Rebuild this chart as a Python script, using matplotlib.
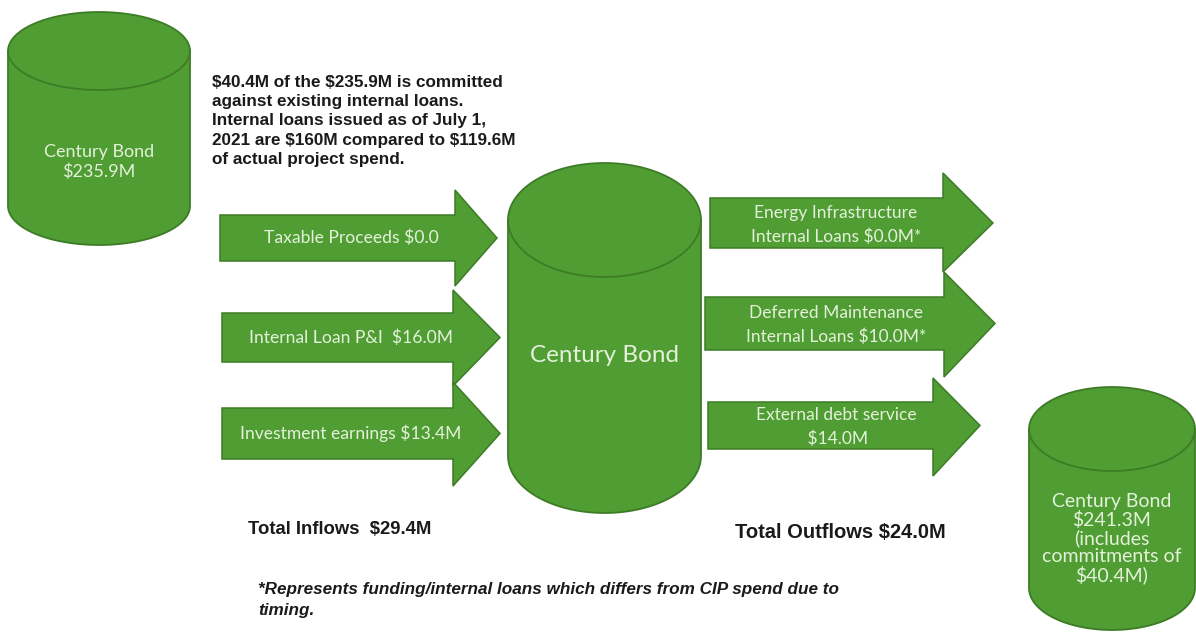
import numpy as np
import matplotlib.pyplot as plt
from matplotlib.patches import Polygon

plt.rcParams["text.parse_math"] = False

# fund balances (millions)
opening_balance = 235.9
closing_balance = 241.3
committed = 40.4
loans_issued = 160
project_spend = 119.6

inflow_labels = ["Taxable Proceeds", "Internal Loan P&I ", "Investment earnings"]
inflow_values = [0.0, 16.0, 13.4]
inflow_fmt = ["${:.1f}", "${:.1f}M", "${:.1f}M"]

outflow_labels = ["Energy Infrastructure\nInternal Loans", "Deferred Maintenance\nInternal Loans",
                  "External debt service\n"]
outflow_values = [0.0, 10.0, 14.0]
outflow_suffix = ["M*", "M*", "M"]

GREEN = "#4f9d33"
EDGE = "#3d7c26"
LIGHT = "#e4f1da"
INK = "#1a1a1a"


def cylinder(ax, x0, x1, ytop, ybot, eh):
    cx = (x0 + x1) / 2
    rx = (x1 - x0) / 2
    ry = eh / 2
    t = np.linspace(np.pi, 2 * np.pi, 60)
    top = np.column_stack([cx + rx * np.cos(t), ytop + ry + ry * np.sin(t)])
    t2 = np.linspace(0, np.pi, 60)
    bot = np.column_stack([cx + rx * np.cos(t2), ybot - ry + ry * np.sin(t2)])
    ax.add_patch(Polygon(np.vstack([top, bot]), closed=True, fc=GREEN, ec=EDGE, lw=1.3))
    rim = np.column_stack([cx + rx * np.cos(t2), ytop + ry + ry * np.sin(t2)])
    ax.plot(rim[:, 0], rim[:, 1], color=EDGE, lw=1.3)


def arrow(ax, x0, xb, xt, ys0, ys1, yh0, yh1):
    yc = (ys0 + ys1) / 2
    pts = [(x0, ys0), (xb, ys0), (xb, yh0), (xt, yc), (xb, yh1), (xb, ys1), (x0, ys1)]
    ax.add_patch(Polygon(pts, closed=True, fc=GREEN, ec=EDGE, lw=1.1))


fig = plt.figure(figsize=(11.96, 6.33), dpi=100)
ax = fig.add_axes([0, 0, 1, 1])
ax.set_xlim(0, 1196)
ax.set_ylim(633, 0)
ax.axis("off")

# bond fund tanks
cylinder(ax, 8, 190, 12, 245, 78)
cylinder(ax, 508, 701, 163, 513, 114)
cylinder(ax, 1029, 1195, 387, 630, 84)

ax.text(99, 162, "Century Bond\n${:.1f}M".format(opening_balance), ha="center", va="center",
        color=LIGHT, family="Lato", fontsize=13, linespacing=1.28)
ax.text(604, 355, "Century Bond", ha="center", va="center", color=LIGHT, family="Lato", fontsize=17.5)
ax.text(1112, 539, "Century Bond\n${:.1f}M\n(includes\ncommitments of\n${:.1f}M)".format(closing_balance, committed),
        ha="center", va="center", color=LIGHT, family="Lato", fontsize=14, linespacing=1.04)

# inflow arrows
in_geom = [(220, 455, 497, 215, 261, 190, 286),
           (222, 453, 500, 313, 362, 290, 386),
           (222, 453, 500, 408, 459, 382, 486)]
for (x0, xb, xt, s0, s1, h0, h1), lab, val, fmt in zip(in_geom, inflow_labels, inflow_values, inflow_fmt):
    arrow(ax, x0, xb, xt, s0, s1, h0, h1)
    ax.text(351, (s0 + s1) / 2, lab + " " + fmt.format(val), ha="center", va="center",
            color=LIGHT, family="Lato", fontsize=12.6)

# outflow arrows
out_geom = [(710, 943, 993, 198, 248, 173, 272),
            (705, 944, 995, 297, 350, 272, 377),
            (708, 933, 980, 402, 449, 378, 476)]
out_y = [225, 325, 427]
for (x0, xb, xt, s0, s1, h0, h1), lab, val, suf, ty in zip(out_geom, outflow_labels, outflow_values,
                                                           outflow_suffix, out_y):
    arrow(ax, x0, xb, xt, s0, s1, h0, h1)
    ax.text(836, ty, lab + " ${:.1f}".format(val) + suf, ha="center", va="center",
            color=LIGHT, family="Lato", fontsize=12.5, linespacing=1.5)

note = ("${:.1f}M of the ${:.1f}M is committed\nagainst existing internal loans.\n"
        "Internal loans issued as of July 1,\n2021 are ${}M compared to ${:.1f}M\n"
        "of actual project spend.").format(committed, opening_balance, loans_issued, project_spend)
ax.text(212, 75, note, ha="left", va="top", color=INK, family="Liberation Sans",
        fontweight="bold", fontsize=12.3, linespacing=1.35)

ax.text(248, 530, "Total Inflows  ${:.1f}M".format(sum(inflow_values)), ha="left", va="center",
        color=INK, family="Liberation Sans", fontweight="bold", fontsize=13.3)
ax.text(735, 533, "Total Outflows ${:.1f}M".format(sum(outflow_values)), ha="left", va="center",
        color=INK, family="Liberation Sans", fontweight="bold", fontsize=14.5)

ax.text(258, 582, "*Represents funding/internal loans which differs from CIP spend due to\ntiming.",
        ha="left", va="top", color=INK, family="Liberation Sans", fontweight="bold",
        style="italic", fontsize=12.3, linespacing=1.5)

fig.savefig("out.png", dpi=100)
